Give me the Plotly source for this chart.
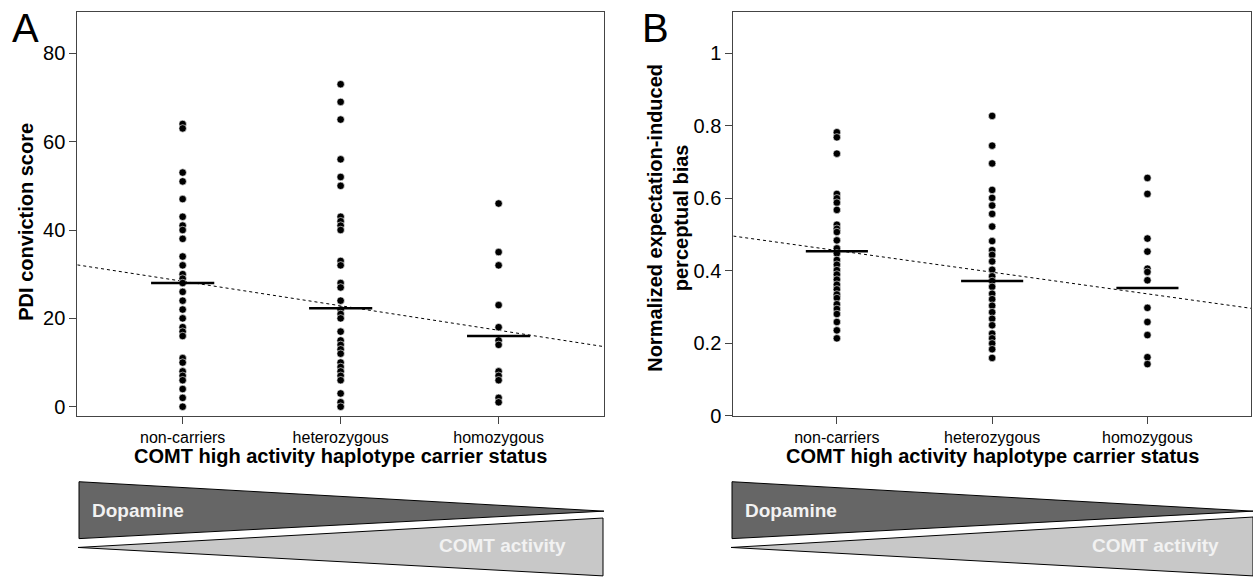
import plotly.graph_objects as go

# ---------------- data ----------------
categories = ["non-carriers", "heterozygous", "homozygous"]

pdi_noncarriers = [64, 63, 53, 51, 47, 43, 41, 40, 38, 34, 32, 30, 29, 28, 26, 24, 22,
                   20, 18, 17, 16, 11, 10, 8, 7, 6, 4, 2, 0]
pdi_heterozygous = [73, 69, 65, 56, 52, 50, 43, 42, 41, 40, 33, 32, 28, 27, 24, 22, 21,
                    20, 17, 15, 14, 13, 12, 10, 9, 8, 7, 6, 3, 1, 0]
pdi_homozygous = [46, 35, 32, 23, 18, 15, 14, 8, 7, 6, 2, 1]
pdi_means = [28.0, 22.3, 16.0]
pdi_trend_intercept = 28.4
pdi_trend_slope = -5.55

bias_noncarriers = [0.782, 0.768, 0.723, 0.612, 0.600, 0.588, 0.568, 0.527, 0.516, 0.507,
                    0.484, 0.462, 0.448, 0.430, 0.417, 0.402, 0.390, 0.376, 0.362, 0.349,
                    0.335, 0.325, 0.308, 0.295, 0.281, 0.259, 0.236, 0.214]
bias_heterozygous = [0.827, 0.745, 0.696, 0.623, 0.601, 0.580, 0.557, 0.522, 0.482, 0.457,
                     0.444, 0.426, 0.403, 0.385, 0.372, 0.356, 0.337, 0.322, 0.304, 0.286,
                     0.268, 0.250, 0.227, 0.214, 0.200, 0.184, 0.160]
bias_homozygous = [0.656, 0.612, 0.489, 0.453, 0.406, 0.397, 0.374, 0.298, 0.259, 0.223,
                   0.162, 0.143]
bias_means = [0.454, 0.372, 0.353]
bias_trend_intercept = 0.456
bias_trend_slope = -0.0597

pdi_ticks = [0, 20, 40, 60, 80]
bias_ticks = [0, 0.2, 0.4, 0.6, 0.8, 1]

# ---------------- layout helpers ----------------
W, H = 1253, 582
FONT = "Liberation Sans, Arial, sans-serif"
XR = [-0.667, 2.667]


def px(x):
    return x / W


def py(y):
    return 1 - y / H


fig = go.Figure()


def add_panel(groups, means, icpt, slope, xref, yref):
    fig.add_trace(go.Scatter(
        x=XR, y=[icpt + slope * XR[0], icpt + slope * XR[1]], mode="lines",
        line=dict(color="black", width=1, dash="dot"), xaxis=xref, yaxis=yref,
        showlegend=False, hoverinfo="skip"))
    for i, vals in enumerate(groups):
        fig.add_trace(go.Scatter(
            x=[i] * len(vals), y=vals, mode="markers",
            marker=dict(color="black", size=7.5, line=dict(color="white", width=0.6)),
            xaxis=xref, yaxis=yref, showlegend=False))
        fig.add_trace(go.Scatter(
            x=[i - 0.2, i + 0.2], y=[means[i], means[i]], mode="lines",
            line=dict(color="black", width=2.5), xaxis=xref, yaxis=yref,
            showlegend=False, hoverinfo="skip"))


add_panel([pdi_noncarriers, pdi_heterozygous, pdi_homozygous], pdi_means,
          pdi_trend_intercept, pdi_trend_slope, "x", "y")
add_panel([bias_noncarriers, bias_heterozygous, bias_homozygous], bias_means,
          bias_trend_intercept, bias_trend_slope, "x2", "y2")

axis_common = dict(showline=True, mirror=True, linecolor="#444", linewidth=1,
                   ticks="outside", ticklen=7, tickcolor="#444", tickwidth=1,
                   showgrid=False, zeroline=False)

ydom = [py(424), py(12)]
fig.update_layout(
    width=W, height=H, margin=dict(l=0, r=0, t=0, b=0),
    paper_bgcolor="white", plot_bgcolor="white",
    font=dict(family=FONT, color="black"),
    xaxis=dict(domain=[px(77.3), px(604)], range=XR, tickvals=[0, 1, 2],
               ticktext=categories, tickfont=dict(size=16), **axis_common),
    yaxis=dict(domain=ydom, range=[-2.1, 89.4], tickvals=pdi_ticks,
               tickfont=dict(size=20), **axis_common),
    xaxis2=dict(domain=[px(733.3), px(1251)], range=XR, tickvals=[0, 1, 2],
                ticktext=categories, tickfont=dict(size=16), anchor="y2", **axis_common),
    yaxis2=dict(domain=ydom, range=[0, 1.114], tickvals=bias_ticks,
                tickfont=dict(size=20), anchor="x2", **axis_common),
)

ann = []


def text(x, y, s, size, bold=False, angle=0, color="black", yanchor="middle"):
    ann.append(dict(x=px(x), y=py(y), xref="paper", yref="paper",
                    text=("<b>%s</b>" % s) if bold else s,
                    showarrow=False, xanchor="center", yanchor=yanchor, textangle=angle,
                    font=dict(size=size, color=color, family=FONT)))


text(25, 4, "A", 40, yanchor="top")
text(655, 4, "B", 40, yanchor="top")
text(26, 226, "PDI conviction score", 20, bold=True, angle=-90)
text(668, 222, "Normalized expectation-induced<br>perceptual bias", 20, bold=True, angle=-90)
text(340.7, 465, "COMT high activity haplotype carrier status", 20, bold=True)
text(992, 465, "COMT high activity haplotype carrier status", 20, bold=True)

shapes = []


def poly(pts, fill):
    path = "M " + " L ".join("%f,%f" % (px(a), py(b)) for a, b in pts) + " Z"
    shapes.append(dict(type="path", xref="paper", yref="paper", path=path,
                       fillcolor=fill, line=dict(color="black", width=1)))


# panel A triangles
poly([(79, 491), (79, 549), (604, 521)], "#666666")
poly([(78, 558), (603, 528), (603, 587)], "#c8c8c8")
# panel B triangles
poly([(732, 491), (732, 549), (1253, 521)], "#666666")
poly([(731, 558), (1253, 527), (1253, 587)], "#c8c8c8")

text(138, 520, "Dopamine", 19, bold=True, color="#f2f2f2")
text(502, 556, "COMT activity", 19, bold=True, color="#f2f2f2")
text(791, 520, "Dopamine", 19, bold=True, color="#f2f2f2")
text(1155, 556, "COMT activity", 19, bold=True, color="#f2f2f2")

fig.update_layout(annotations=ann, shapes=shapes)

fig.write_html(
    "out.html",
    config={"displayModeBar": False},
    post_script="document.documentElement.style.margin='0';"
                "document.body.style.margin='0';"
                "document.body.style.overflow='hidden';",
)
